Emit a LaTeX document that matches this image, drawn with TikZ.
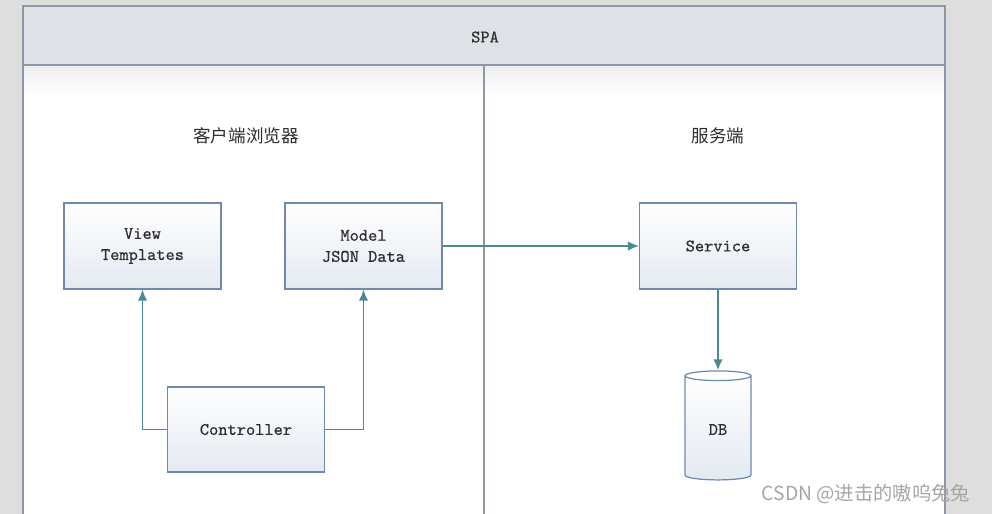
\documentclass[tikz,border=0pt]{standalone}
\usepackage{fontspec}
\newfontfamily\cjkfont{Noto Sans CJK SC}
\newfontfamily\boxfont[FakeBold=0.6]{Latin Modern Mono}
\usetikzlibrary{arrows.meta,shapes.geometric}
\definecolor{framegray}{HTML}{8E98A4}
\definecolor{headfill}{HTML}{DEE2E7}
\definecolor{boxline}{HTML}{6E8BAE}
\definecolor{boxfill}{HTML}{E4E9F1}
\definecolor{linkteal}{HTML}{4B8993}
\definecolor{textgray}{HTML}{2E2E2E}
\tikzset{
  block/.style={draw=boxline, line width=0.7pt, top color=white, bottom color=boxfill,
    minimum width=3.14cm, minimum height=1.72cm, align=center,
    font=\boxfont\fontsize{10}{12}\selectfont, text=textgray},
  store/.style={cylinder, shape border rotate=90, aspect=0.32, draw=boxline, line width=0.7pt,
    top color=white, bottom color=boxfill, minimum width=1.32cm, minimum height=2.18cm,
    font=\boxfont\fontsize{10}{12}\selectfont, text=textgray},
  link/.style={draw=linkteal, line width=0.9pt, -{Latex[length=2.2mm,width=1.9mm]}},
  zone/.style={font=\cjkfont\fontsize{10}{12}\selectfont, text=textgray},
}

\begin{document}
\begin{tikzpicture}[x=0.02cm,y=-0.02cm]
  %%%%% START %%%%%
  \useasboundingbox (0,0) rectangle (992,514);
  \fill[black!13] (0,0) rectangle (992,514);
  \shade[top color=black!7, bottom color=white] (23,65) rectangle (945,95);
  \fill[white] (23,95) rectangle (945,514);

  % frame and header
  \draw[framegray, fill=headfill, line width=0.7pt] (23,6) rectangle (945,65);
  \draw[framegray, line width=0.7pt] (23,65) -- (23,514);
  \draw[framegray, line width=0.7pt] (945,65) -- (945,514);
  \draw[framegray, line width=0.7pt] (484,65) -- (484,514);
  \node[font=\boxfont\fontsize{10}{12}\selectfont, text=textgray] (spa) at (485,37) {SPA};

  \node[zone] (client) at (246,136) {客户端浏览器};
  \node[zone] (server) at (718,136) {服务端};

  % blocks
  \node[block] (view) at (142.5,246) {View\\Templates};
  \node[block] (model) at (363.5,246) {Model\\JSON Data};
  \node[block] (service) at (718,246) {Service};
  \node[block, minimum height=1.7cm] (ctrl) at (246,429.5) {Controller};
  \node[store] (db) at (718,429.5) {DB};

  % links
  \draw[link] (ctrl.west) -| (view.south);
  \draw[link] (ctrl.east) -| (model.south);
  \draw[link] (model.east) -- (service.west);
  \draw[link] (service.south) -- (db.north);

  \node[font=\cjkfont\fontsize{11}{13}\selectfont, text=black!35] (wmark) at (866,494) {CSDN @进击的嗷呜兔兔};
  %%%%% END %%%%%
\end{tikzpicture}
\end{document}
